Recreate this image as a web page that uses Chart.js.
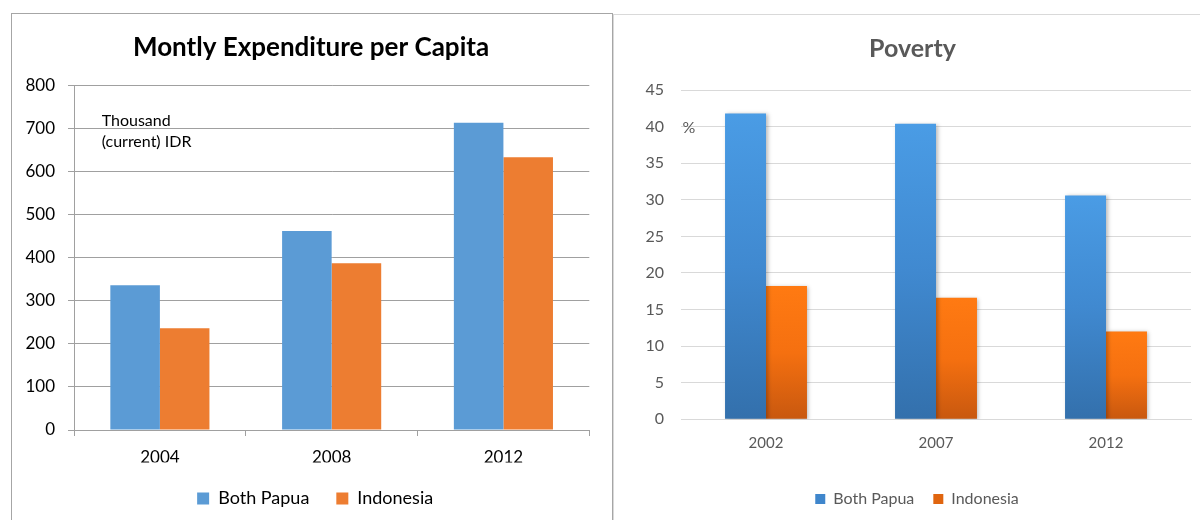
<!DOCTYPE html>
<html>
<head>
<meta charset="utf-8">
<title>Papua: Expenditure and Poverty</title>
<script src="https://cdn.jsdelivr.net/npm/chart.js@4.4.1/dist/chart.umd.min.js"></script>
<style>
  html, body { margin: 0; padding: 0; background: #fff; overflow: hidden; }
  body { width: 1200px; height: 520px; position: relative; }
  .frame { position: absolute; box-sizing: border-box; }
  #frameLeft { left: 11px; top: 13px; width: 602px; height: 540px; border: 1px solid #a6a6a6; }
  #frameRight { left: 613px; top: 14px; width: 600px; height: 540px; border: 1px solid #d9d9d9; }
  canvas { position: absolute; }
  #expChart { left: 12px; top: 14px; }
  #povChart { left: 614px; top: 14px; }
</style>
</head>
<body>
<div class="frame" id="frameLeft"></div>
<div class="frame" id="frameRight"></div>
<canvas id="expChart" width="599" height="506"></canvas>
<canvas id="povChart" width="586" height="506"></canvas>
<script>
// ---- data -------------------------------------------------------------
const seriesNames = ['Both Papua', 'Indonesia'];

// Monthly expenditure per capita, thousand (current) IDR
const expYears = ['2004', '2008', '2012'];
const expPapua = [336, 462, 713];
const expIndonesia = [236, 387, 633];

// Poverty rate, %
const povYears = ['2002', '2007', '2012'];
const povPapua = [41.8, 40.4, 30.6];
const povIndonesia = [18.2, 16.6, 12.0];

// ---- shared settings ---------------------------------------------------
Chart.defaults.font.family = 'Lato, "Open Sans", sans-serif';
Chart.defaults.animation = false;

// Text note placed relative to the plot area's top-left corner
const plotNote = {
  id: 'plotNote',
  afterDraw(chart, args, opts) {
    if (!opts.lines) return;
    const { ctx, chartArea } = chart;
    ctx.save();
    ctx.font = opts.font;
    ctx.fillStyle = opts.color;
    ctx.textAlign = 'left';
    ctx.textBaseline = 'alphabetic';
    opts.lines.forEach((line, i) => {
      ctx.fillText(line, chartArea.left + opts.dx, chartArea.top + opts.dy + i * opts.lineGap);
    });
    ctx.restore();
  }
};

// Nudges the title and legend horizontally after layout
const boxShift = {
  id: 'boxShift',
  afterLayout(chart, args, opts) {
    const t = chart.titleBlock;
    const lg = chart.legend;
    if (t && opts.title) { t.left += opts.title; t.right += opts.title; }
    if (lg && opts.legend) { lg.left += opts.legend; lg.right += opts.legend; }
  }
};

// Soft drop shadow behind bars
const barShadow = {
  id: 'barShadow',
  beforeDatasetsDraw(chart, args, opts) {
    if (!opts.enabled) return;
    const ctx = chart.ctx;
    ctx.save();
    ctx.shadowColor = 'rgba(0,0,0,0.28)';
    ctx.shadowBlur = 4;
    ctx.shadowOffsetX = 1.5;
    ctx.shadowOffsetY = 1;
  },
  afterDatasetsDraw(chart, args, opts) {
    if (opts.enabled) chart.ctx.restore();
  }
};

// Vertical gradient spanning each bar from its top to the zero line
function barGradient(stops, fallback) {
  return (c) => {
    const chart = c.chart;
    if (c.type !== 'data' || !chart.chartArea || !c.parsed) return fallback;
    const y = chart.scales.y;
    const top = y.getPixelForValue(c.parsed.y);
    const base = y.getPixelForValue(0);
    const g = chart.ctx.createLinearGradient(0, top, 0, base);
    stops.forEach((col, i) => g.addColorStop(i / (stops.length - 1), col));
    return g;
  };
}

// ---- left chart: expenditure ------------------------------------------
const leftGrey = '#a0a0a0';
new Chart(document.getElementById('expChart'), {
  type: 'bar',
  data: {
    labels: expYears,
    datasets: [
      { label: seriesNames[0], data: expPapua, backgroundColor: '#5B9BD5',
        categoryPercentage: 0.577, barPercentage: 1 },
      { label: seriesNames[1], data: expIndonesia, backgroundColor: '#ED7D31',
        categoryPercentage: 0.577, barPercentage: 1 }
    ]
  },
  plugins: [plotNote, boxShift],
  options: {
    responsive: false,
    devicePixelRatio: 1,
    layout: { padding: { left: 0, right: 21.7, top: 0, bottom: 2.5 } },
    plugins: {
      title: {
        display: true,
        text: 'Montly Expenditure per Capita',
        color: '#000',
        font: { size: 26, weight: 'bold' },
        padding: { top: 18.4, bottom: 21.6 }
      },
      legend: {
        position: 'bottom',
        labels: { color: '#000', font: { size: 18 }, boxWidth: 12, boxHeight: 12, padding: 27 }
      },
      tooltip: { enabled: false },
      plotNote: {
        lines: ['Thousand', '(current) IDR'],
        font: '16px Lato, "Open Sans", sans-serif',
        color: '#000',
        dx: 27.7, dy: 40.5, lineGap: 21
      },
      boxShift: { title: 10.4, legend: 14.5 }
    },
    scales: {
      x: {
        grid: { drawOnChartArea: false, drawTicks: true, tickLength: 6, color: leftGrey },
        border: { color: leftGrey },
        ticks: { color: '#000', font: { size: 17 }, padding: 11.5 },
        afterFit(s) { s.height = 32.5; }
      },
      y: {
        min: 0, max: 800,
        grid: { color: leftGrey, tickLength: 6 },
        border: { color: leftGrey },
        ticks: { stepSize: 100, color: '#000', font: { size: 17 }, padding: 13 },
        afterFit(s) { s.width = 62; }
      }
    }
  }
});

// ---- right chart: poverty ---------------------------------------------
const rightGrey = '#d9d9d9';
const rightText = '#595959';
new Chart(document.getElementById('povChart'), {
  type: 'bar',
  data: {
    labels: povYears,
    datasets: [
      { label: seriesNames[0], data: povPapua,
        backgroundColor: barGradient(['#4A9CE5', '#4089D0', '#3370AC'], '#3F86CC'),
        categoryPercentage: 0.482, barPercentage: 1 },
      { label: seriesNames[1], data: povIndonesia,
        backgroundColor: barGradient(['#FF7A12', '#F57010', '#C8580F'], '#E0650F'),
        categoryPercentage: 0.482, barPercentage: 1 }
    ]
  },
  plugins: [plotNote, boxShift, barShadow],
  options: {
    responsive: false,
    devicePixelRatio: 1,
    layout: { padding: { left: 20, right: 9, top: 0, bottom: 3 } },
    plugins: {
      title: {
        display: true,
        text: 'Poverty',
        color: rightText,
        font: { size: 25, weight: 'bold' },
        padding: { top: 19.5, bottom: 26.5 }
      },
      legend: {
        position: 'bottom',
        labels: {
          color: rightText, font: { size: 16 }, boxWidth: 10, boxHeight: 10, padding: 19,
          generateLabels(chart) {
            const solid = ['#3F86CC', '#E0650F'];
            return Chart.defaults.plugins.legend.labels.generateLabels(chart).map((it, i) => {
              it.fillStyle = solid[i];
              it.strokeStyle = solid[i];
              it.lineWidth = 0;
              return it;
            });
          }
        }
      },
      tooltip: { enabled: false },
      plotNote: {
        lines: ['%'],
        font: '16px Lato, "Open Sans", sans-serif',
        color: rightText,
        dx: 1.5, dy: 42.5, lineGap: 0
      },
      boxShift: { title: 0, legend: 4.5 },
      barShadow: { enabled: true }
    },
    scales: {
      x: {
        grid: { display: false, drawTicks: false },
        border: { display: true, color: rightGrey },
        ticks: { color: rightText, font: { size: 15 }, padding: 14.7 },
        afterFit(s) { s.height = 52.7; }
      },
      y: {
        min: 0, max: 45,
        grid: { color: rightGrey, drawTicks: false },
        border: { display: false },
        ticks: { stepSize: 5, color: rightText, font: { size: 16 }, padding: 17 },
        afterFit(s) { s.width = 47; }
      }
    }
  }
});
</script>
</body>
</html>
